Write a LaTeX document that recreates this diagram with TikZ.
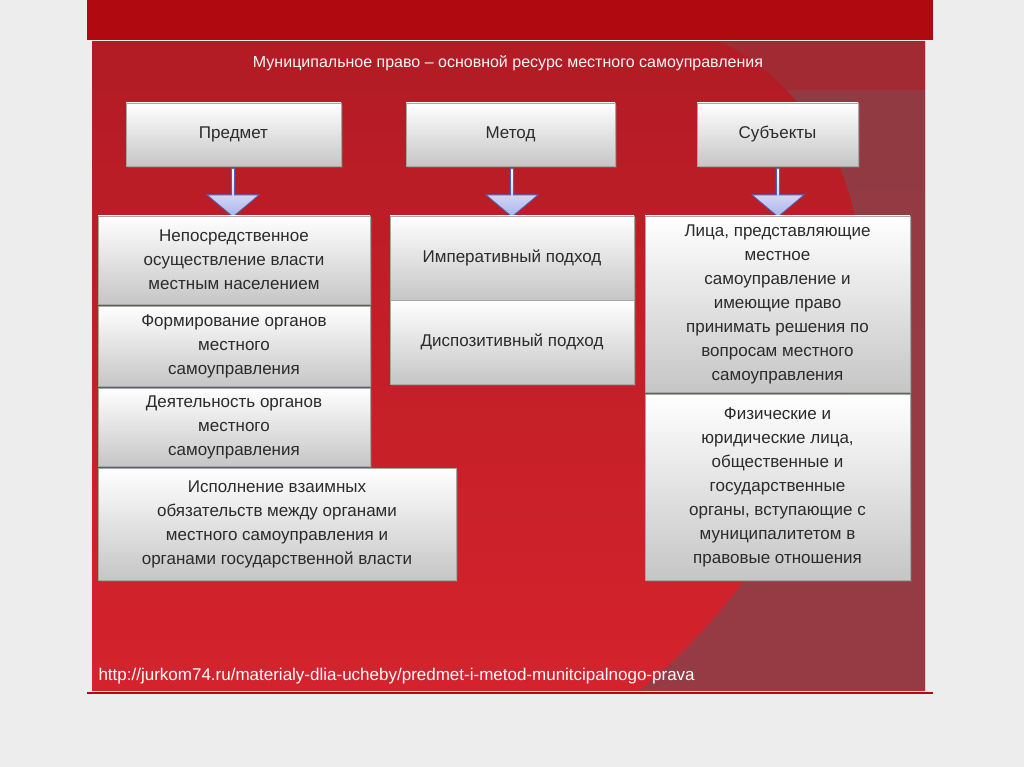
\documentclass[tikz,border=0pt]{standalone}
\usepackage{fontspec}
\setmainfont{Liberation Sans}
\usetikzlibrary{shapes.arrows,shadows}
\definecolor{bg}{HTML}{EDEDED}
\definecolor{band}{HTML}{B00A10}
\definecolor{redA}{HTML}{D4232C}
\definecolor{redB}{HTML}{B31B25}
\definecolor{darkr}{HTML}{8C4048}
\definecolor{txt}{HTML}{2B2B2B}
\definecolor{arrf}{HTML}{A9B4EC}
\definecolor{arrd}{HTML}{5060B8}
\tikzset{
  x=1pt,y=-1pt,
  gbox/.style={draw=gray!70,line width=0.6pt,top color=white,bottom color=gray!45,
    font=\fontsize{17}{24}\selectfont,text=txt,align=center,inner sep=2pt,
    drop shadow={opacity=0.35,shadow xshift=2pt,shadow yshift=-2pt}},
  darr/.style={single arrow,shape border rotate=270,draw=arrd,line width=0.8pt,
    top color=white,bottom color=arrf,minimum width=52pt,minimum height=48pt,
    single arrow head extend=6pt,single arrow tip angle=100,inner sep=0pt}
}
\begin{document}
\begin{tikzpicture}
\fill[bg] (0,0) rectangle (1024,767);
\useasboundingbox (0,0) rectangle (1024,767);
\fill[band] (87,0) rectangle (933,40);
\shade[top color=redB,bottom color=redA] (92,42) rectangle (925,690);
\fill[darkr,opacity=0.85] (925,42) -- (925,690) -- (640,690) .. controls (800,560) and (930,300) .. (820,130) .. controls (790,90) and (760,60) .. (720,42) -- cycle;
\fill[redB,opacity=0.5] (92,42) rectangle (925,90);
\draw[band,line width=1.5pt] (87,693) -- (933,693);
\node[text=white!85!pink,font=\fontsize{16}{19}\selectfont] (title) at (508,63) {Муниципальное право – основной ресурс местного самоуправления};
\node[gbox,minimum width=215pt,minimum height=63pt] (p) at (233.5,134.5) {Предмет};
\node[gbox,minimum width=209pt,minimum height=63pt] (m) at (510.5,134.5) {Метод};
\node[gbox,minimum width=161pt,minimum height=63pt] (s) at (777.5,134.5) {Субъекты};
\node[darr] (ap) at (233,192) {};
\node[darr] (am) at (512,192) {};
\node[darr] (as) at (778,192) {};
\node[gbox,minimum width=272pt,minimum height=88pt] (p1) at (234,260) {Непосредственное\\осуществление власти\\местным населением};
\node[gbox,minimum width=272pt,minimum height=80pt] (p2) at (234,346) {Формирование органов\\местного\\самоуправления};
\node[gbox,minimum width=272pt,minimum height=78pt] (p3) at (234,427) {Деятельность органов\\местного\\самоуправления};
\node[gbox,minimum width=358pt,minimum height=112pt] (p4) at (277,524) {Исполнение взаимных\\обязательств между органами\\местного самоуправления и\\органами государственной власти};
\node[gbox,minimum width=244pt,minimum height=84pt] (m1) at (512,258) {Императивный подход};
\node[gbox,minimum width=244pt,minimum height=84pt] (m2) at (512,342) {Диспозитивный подход};
\node[gbox,minimum width=265pt,minimum height=176pt] (s1) at (777.5,304) {Лица, представляющие\\местное\\самоуправление и\\имеющие право\\принимать решения по\\вопросам местного\\самоуправления};
\node[gbox,minimum width=265pt,minimum height=186pt] (s2) at (777.5,487) {Физические и\\юридические лица,\\общественные и\\государственные\\органы, вступающие с\\муниципалитетом в\\правовые отношения};
\node[anchor=west,text=white,font=\fontsize{17}{20}\selectfont] (url) at (95,676) {http://jurkom74.ru/materialy-dlia-ucheby/predmet-i-metod-munitcipalnogo-prava};
\end{tikzpicture}
\end{document}
